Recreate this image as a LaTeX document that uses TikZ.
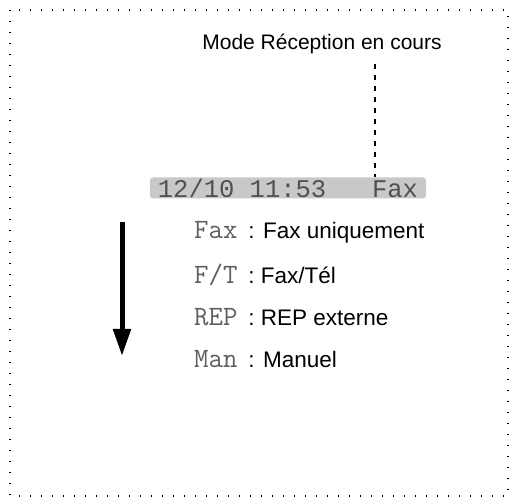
\documentclass[tikz,border=0pt]{standalone}
\usepackage{fontspec}
\setmainfont{Liberation Sans}
\newfontfamily\lcdfont{Liberation Mono}
\usetikzlibrary{arrows.meta}
\definecolor{lcdgray}{RGB}{200,200,200}
\definecolor{lcdtext}{RGB}{80,80,80}
\definecolor{keygray}{RGB}{95,95,95}
\newcommand{\modekey}[1]{\textcolor{keygray}{\fontsize{28}{28}\selectfont\ttfamily #1}\hspace{11pt}}

\begin{document}
\begin{tikzpicture}[x=1pt,y=-1pt,
    moderow/.style={anchor=west, inner sep=0pt, font=\fontsize{22.5}{24}\selectfont}]
    \useasboundingbox (0,0) rectangle (515,502);
    \def\rowgap{42.5}

    % Dotted frame round the whole picture
    \draw[line width=1.4pt, dash pattern=on 1.4pt off 9.6pt] (10,10) rectangle (508,496);

    % Caption above the display, with its dashed pointer
    \node[font=\fontsize{21}{24}\selectfont] (title) at (322,44) {Mode Réception en cours};
    \node[fill=lcdgray, rounded corners=3pt, minimum width=276pt, minimum height=21pt, inner sep=0pt,
          font=\lcdfont\fontsize{25.5}{25.5}\selectfont, text=lcdtext] (lcd) at (288,188) {12/10 11:53\ \ \ Fax};
    \coordinate (tick) at (375,64);
    \draw[line width=1.5pt, dash pattern=on 5pt off 6pt] (tick) -- (tick |- lcd.north);

    % Scroll arrow
    \coordinate (top) at (122,222);
    \coordinate (bot) at (122,356);
    \draw[line width=5pt, -{Triangle[width=17pt,length=27pt]}] (top) -- (bot);

    % The four receive modes
    \node[moderow] (fax) at (194,232) {\modekey{Fax}: Fax uniquement};
    \node[moderow] (ft)  at (194,232+\rowgap) {\modekey{F/T}: Fax/Tél};
    \node[moderow] (rep) at (194,232+2*\rowgap) {\modekey{REP}: REP externe};
    \node[moderow] (man) at (194,232+3*\rowgap) {\modekey{Man}: Manuel};
\end{tikzpicture}
\end{document}
